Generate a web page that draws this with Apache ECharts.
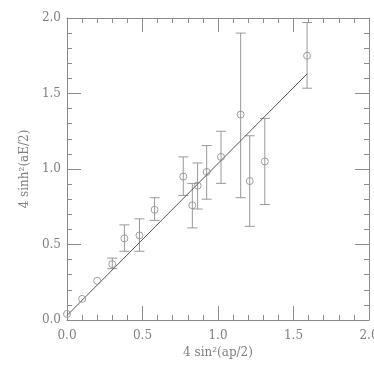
<!DOCTYPE html>
<html>
<head>
<meta charset="utf-8">
<script src="https://cdn.jsdelivr.net/npm/echarts@6/dist/echarts.min.js"></script>
<style>
  html, body { margin: 0; padding: 0; background: #fff; }
  #chart { width: 374px; height: 374px; }
</style>
</head>
<body>
<div id="chart"></div>
<script>
// measured points: x, y and the ends of the error bars
var xs    = [0.00, 0.10, 0.20, 0.30, 0.38, 0.48, 0.58, 0.77, 0.83, 0.865, 0.925, 1.02, 1.15, 1.21, 1.31, 1.59];
var ys    = [0.04, 0.14, 0.26, 0.37, 0.54, 0.56, 0.73, 0.95, 0.76, 0.89, 0.98, 1.08, 1.36, 0.92, 1.05, 1.75];
var errHi = [null, null, null, 0.41, 0.63, 0.67, 0.81, 1.08, 0.905, 1.04, 1.155, 1.25, 1.90, 1.22, 1.335, 1.97];
var errLo = [null, null, null, 0.34, 0.455, 0.455, 0.66, 0.825, 0.61, 0.735, 0.80, 0.905, 0.81, 0.62, 0.765, 1.535];

// fitted line end points
var fitX = [0.0, 1.59];
var fitY = [0.03, 1.63];

var points = xs.map(function (x, i) { return [x, ys[i]]; });
var bars = xs.map(function (x, i) { return [x, ys[i], errLo[i], errHi[i]]; });
var fit = fitX.map(function (x, i) { return [x, fitY[i]]; });

var axisGrey = '#8c8c8c';
var textGrey = '#808080';
var font = 'DejaVu Serif';

function baseAxis(extra) {
    var a = {
        type: 'value',
        min: 0,
        max: 2,
        interval: 0.5,
        axisLine: { show: true, onZero: false, lineStyle: { color: axisGrey, width: 1 } },
        axisTick: { show: true, inside: true, length: 14, lineStyle: { color: axisGrey } },
        minorTick: { show: true, splitNumber: 5, length: 5, lineStyle: { color: axisGrey } },
        splitLine: { show: false },
        axisLabel: {
            color: textGrey, fontFamily: font, fontSize: 12,
            formatter: function (v) { return v.toFixed(1); }
        }
    };
    for (var k in extra) a[k] = extra[k];
    return a;
}

var chart = echarts.init(document.getElementById('chart'));
chart.setOption({
    animation: false,
    grid: { left: 67, top: 18, right: 5, bottom: 54, outerBoundsMode: 'none', containLabel: false },
    xAxis: [
        baseAxis({
            position: 'bottom',
            name: '4 sin\u00b2(ap/2)',
            nameLocation: 'middle',
            nameGap: 24,
            nameTextStyle: { color: textGrey, fontFamily: font, fontSize: 12 },
            axisLabel: {
                color: textGrey, fontFamily: font, fontSize: 12, margin: 10,
                formatter: function (v) { return v.toFixed(1); }
            }
        }),
        baseAxis({ position: 'top', axisLabel: { show: false } })
    ],
    yAxis: [
        baseAxis({
            position: 'left',
            name: '4 sinh\u00b2(aE/2)',
            nameLocation: 'middle',
            nameGap: 31,
            nameTextStyle: { color: textGrey, fontFamily: font, fontSize: 12 },
            axisLabel: {
                color: textGrey, fontFamily: font, fontSize: 12, margin: 6,
                formatter: function (v) { return v.toFixed(1); }
            }
        }),
        baseAxis({ position: 'right', axisLabel: { show: false } })
    ],
    series: [
        {
            type: 'custom',
            z: 2,
            data: bars,
            renderItem: function (params, api) {
                var lo = api.value(2), hi = api.value(3);
                if (isNaN(lo) || isNaN(hi)) return null;
                var x = api.value(0);
                var top = api.coord([x, hi]);
                var bot = api.coord([x, lo]);
                var w = 5;
                var st = { stroke: '#999', lineWidth: 1 };
                return {
                    type: 'group',
                    children: [
                        { type: 'line', shape: { x1: top[0], y1: top[1], x2: bot[0], y2: bot[1] }, style: st },
                        { type: 'line', shape: { x1: top[0] - w, y1: top[1], x2: top[0] + w, y2: top[1] }, style: st },
                        { type: 'line', shape: { x1: bot[0] - w, y1: bot[1], x2: bot[0] + w, y2: bot[1] }, style: st }
                    ]
                };
            }
        },
        {
            type: 'line',
            z: 3,
            data: fit,
            symbol: 'none',
            lineStyle: { color: '#555', width: 1 }
        },
        {
            type: 'scatter',
            z: 4,
            data: points,
            symbol: 'circle',
            symbolSize: 7,
            itemStyle: { color: 'rgba(0,0,0,0)', borderColor: '#888', borderWidth: 1 }
        }
    ]
});
</script>
</body>
</html>
